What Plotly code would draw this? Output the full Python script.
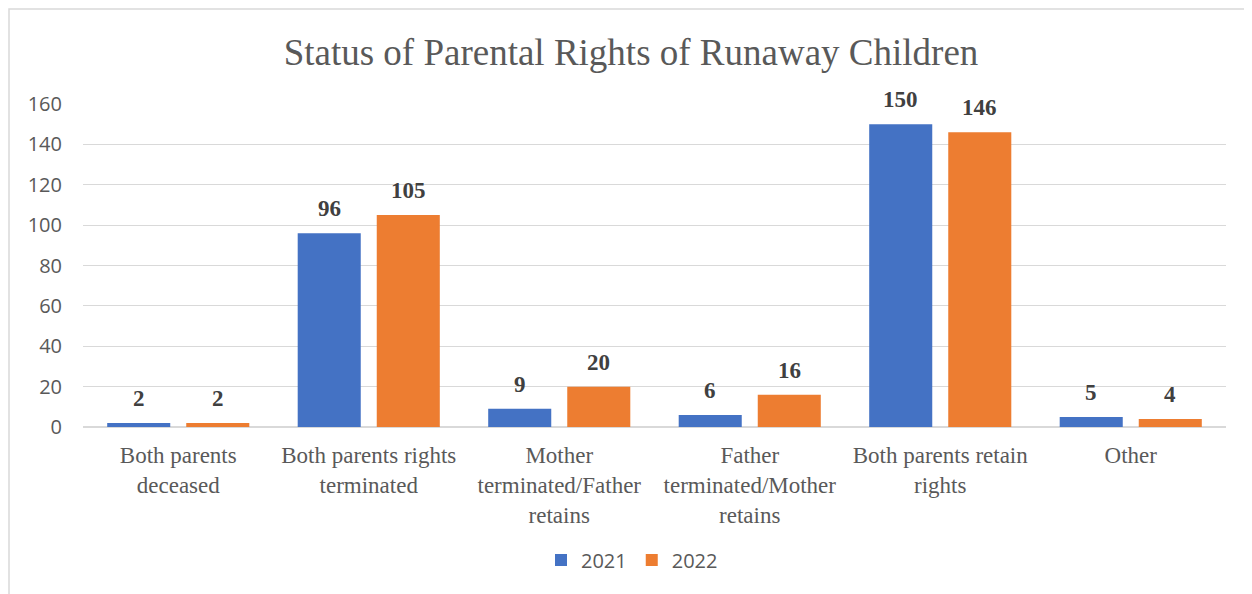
import plotly.graph_objects as go

categories = ["Both parents<br>deceased", "Both parents rights<br>terminated",
              "Mother<br>terminated/Father<br>retains", "Father<br>terminated/Mother<br>retains",
              "Both parents retain<br>rights", "Other"]
series_names = ["2021", "2022"]
values_2021 = [2, 96, 9, 6, 150, 5]
values_2022 = [2, 105, 20, 16, 146, 4]
y_ticks = [0, 20, 40, 60, 80, 100, 120, 140, 160]

colors = ["#4472C4", "#ED7D31"]
serif = "Liberation Serif, Times New Roman, serif"
sans = "Open Sans, Noto Sans, sans-serif"

# page is offset by the 8px body margin; coordinates below are figure coordinates
W, H = 1252, 594
L, T = 75, 96
R = W - 1218
B = H - 419
pw, ph = W - L - R, H - T - B

fig = go.Figure()
for name, vals, col in zip(series_names, [values_2021, values_2022], colors):
    fig.add_trace(go.Bar(x=categories, y=vals, name=name, marker_color=col,
                         marker_line_width=0))

annotations = []
group_w = pw / len(categories)
bargap = 0.17
slot = group_w * (1 - bargap) / 2
for i, vals in enumerate([values_2021, values_2022]):
    shift = (i - 0.5) * slot
    for c, v in zip(categories, vals):
        annotations.append(dict(x=c, y=v, xref="x", yref="y", text=str(v), showarrow=False,
                                xshift=shift, yshift=10, yanchor="bottom",
                                font=dict(family=serif, size=23, color="#404040", weight="bold")))

fig.update_layout(
    width=W, height=H,
    margin=dict(l=L, r=R, t=T, b=B),
    paper_bgcolor="white", plot_bgcolor="white",
    barmode="group", bargap=bargap, bargroupgap=0.2025,
    title=dict(text="Status of Parental Rights of Runaway Children",
               font=dict(family=serif, size=37, color="#595959"),
               x=623 / W, xanchor="center", xref="container",
               y=1 - 44 / H, yanchor="middle", yref="container"),
    xaxis=dict(tickfont=dict(family=serif, size=23, color="#595959"),
               showgrid=False, ticks="", ticklabelstandoff=12, showline=False),
    yaxis=dict(range=[0, 160], tickvals=y_ticks, tickfont=dict(family=sans, size=20, color="#595959"),
               showgrid=True, gridcolor="#D9D9D9", gridwidth=1.3, zeroline=True,
               zerolinecolor="#D9D9D9", zerolinewidth=1.5, ticklabelstandoff=20),
    legend=dict(orientation="h", xref="container", x=624 / W, xanchor="center",
                yref="container", y=1 - 552 / H, yanchor="middle",
                font=dict(family=sans, size=20, color="#595959")),
    annotations=annotations,
    shapes=[dict(type="rect", xref="paper", yref="paper",
                 x0=(1 - L) / pw, x1=(W + 10 - L) / pw,
                 y0=(H - B - (H + 10)) / ph, y1=(H - B - 1) / ph,
                 line=dict(color="#D9D9D9", width=1.5), layer="below")],
)

fig.write_html("out.html")
